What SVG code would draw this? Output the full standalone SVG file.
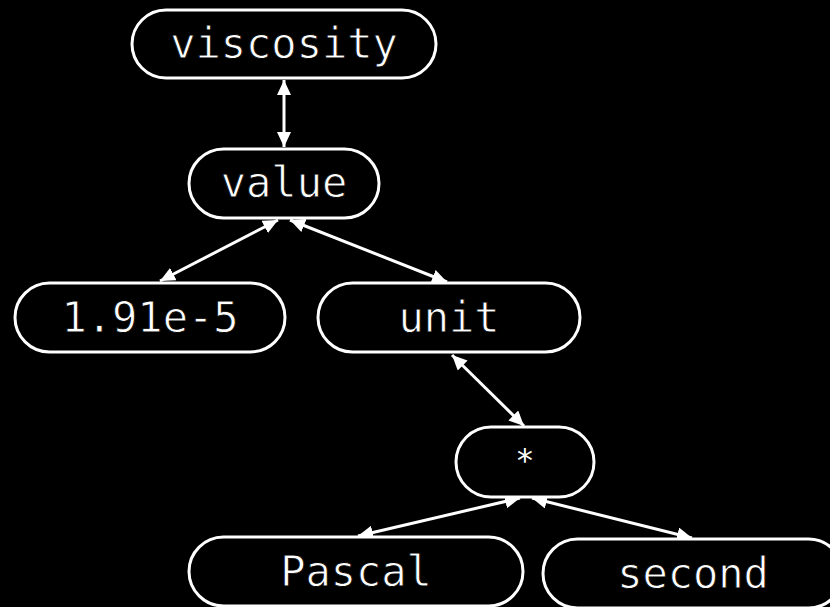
<svg xmlns="http://www.w3.org/2000/svg" width="830" height="607" viewBox="0 0 830 607">
  <style>
    .node rect { fill: #000; stroke: #fff; stroke-width: 3; }
    .node text { fill: #fff; stroke: #000; stroke-width: 0.8px; font-family: "DejaVu Sans Mono", "Liberation Mono", monospace; font-size: 42px; text-anchor: middle; }
    .node text.sym { stroke: none; font-size: 32px; }
    .edge { stroke: #fff; stroke-width: 3; fill: none; marker-start: url(#head); marker-end: url(#head); }
  </style>
  <defs>
    <marker id="head" viewBox="0 0 15 14" refX="15" refY="7" markerWidth="15" markerHeight="14" markerUnits="userSpaceOnUse" orient="auto-start-reverse">
      <path d="M0,0 L15,7 L0,14 z" fill="#fff"/>
    </marker>
  </defs>
  <rect width="830" height="607" fill="#000"/>

  <g id="edges">
    <line class="edge" x1="284" y1="80" x2="284" y2="147"/>
    <line class="edge" x1="278" y1="220" x2="160" y2="281"/>
    <line class="edge" x1="290" y1="220" x2="447" y2="282"/>
    <line class="edge" x1="452" y1="355" x2="524" y2="426"/>
    <line class="edge" x1="520" y1="498" x2="358" y2="536"/>
    <line class="edge" x1="532" y1="498" x2="692" y2="538"/>
  </g>

  <g id="viscosity" class="node">
    <rect x="132" y="10" width="304" height="68" rx="34"/>
    <text x="284" y="58">viscosity</text>
  </g>
  <g id="value" class="node">
    <rect x="189" y="149" width="190" height="69" rx="34.5"/>
    <text x="284" y="197">value</text>
  </g>
  <g id="number" class="node">
    <rect x="15" y="283" width="270" height="69" rx="34.5"/>
    <text x="150" y="332">1.91e-5</text>
  </g>
  <g id="unit" class="node">
    <rect x="318" y="283" width="262" height="69" rx="34.5"/>
    <text x="449" y="332">unit</text>
  </g>
  <g id="times" class="node">
    <rect x="456" y="427" width="138" height="70" rx="35"/>
    <text class="sym" x="525" y="471">*</text>
  </g>
  <g id="pascal" class="node">
    <rect x="189" y="537" width="334" height="69" rx="34.5"/>
    <text x="356" y="586">Pascal</text>
  </g>
  <g id="second" class="node">
    <rect x="543" y="539" width="300" height="69" rx="34.5"/>
    <text x="693" y="588">second</text>
  </g>
</svg>
